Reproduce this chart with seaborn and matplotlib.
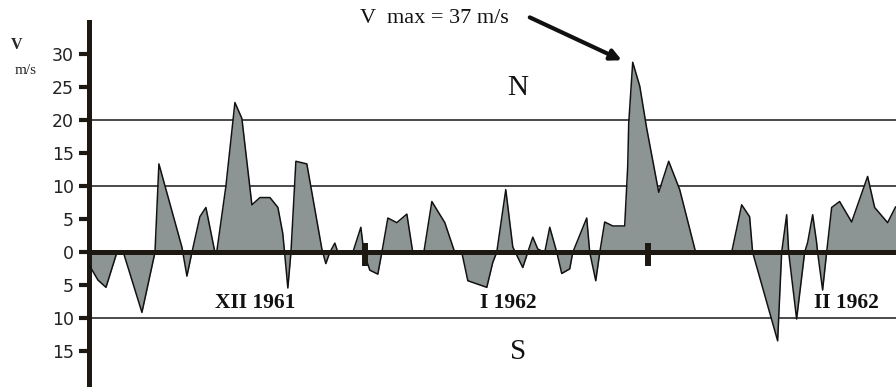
import numpy as np
import pandas as pd
import matplotlib
matplotlib.use('Agg')
import matplotlib.pyplot as plt
import seaborn as sns

# wind speed, Dec 1961 - Feb 1962 (days since 1 Dec), N positive / S negative
days = [0.82, 1.75, 2.63, 3.83, 4.60, 6.57, 8.00, 8.43, 10.95, 11.50, 12.05, 12.92, 13.58,
        14.57, 14.79, 15.77, 16.76, 17.52, 18.62, 19.50, 20.60, 21.47, 22.00, 22.20, 22.56,
        22.90, 23.44, 24.64, 26.29, 26.72, 27.16, 27.71, 28.04, 29.68, 30.56, 30.89, 31.54,
        32.42, 32.86, 33.52, 34.50, 35.60, 36.25, 37.46, 38.34, 39.76, 40.85, 41.62, 42.28,
        44.36, 45.02, 45.45, 46.44, 47.21, 48.30, 48.85, 49.40, 49.95, 50.71, 51.26, 52.03,
        52.57, 53.45, 53.78, 55.31, 55.64, 56.30, 56.74, 57.28, 58.16, 59.47, 59.80, 59.91,
        60.35, 61.12, 61.88, 63.20, 64.29, 65.50, 67.25, 71.19, 72.29, 73.16, 73.49, 76.23,
        76.67, 77.22, 77.44, 78.31, 79.19, 79.52, 80.07, 80.50, 80.61, 81.16, 81.60, 82.15,
        83.02, 84.34, 86.09, 86.86, 88.28, 89.16]
speed = [-2.0, -4.2, -5.3, 0.0, -0.3, -9.1, 0.0, 13.4, 0.8, -3.6, 0.0, 5.4, 6.8,
         0.0, 0.3, 10.0, 22.7, 20.3, 7.2, 8.3, 8.3, 6.8, 2.9, 0.0, -5.4,
         0.0, 13.8, 13.4, 0.5, -1.7, 0.0, 1.4, 0.0, 0.0, 3.8, 0.0, -2.7,
         -3.3, 0.0, 5.2, 4.5, 5.8, 0.0, 0.0, 7.7, 4.5, 0.0, 0.0, -4.3,
         -5.3, -1.5, 0.0, 9.5, 0.8, -2.3, 0.0, 2.3, 0.5, 0.0, 3.8, 0.0,
         -3.2, -2.5, 0.0, 5.2, 0.0, -4.3, 0.0, 4.6, 4.0, 4.0, 13.0, 19.5,
         28.8, 25.2, 18.8, 9.1, 13.8, 9.5, 0.0, 0.0, 7.2, 5.4, 0.0, -13.4,
         0.0, 5.7, 0.0, -10.1, 0.0, 1.5, 5.7, 1.5, 0.0, -5.7, 0.0, 6.8,
         7.7, 4.6, 11.5, 6.8, 4.5, 6.9]

month_starts = [31, 62]
month_labels = ['XII 1961', 'I 1962', 'II 1962']
month_label_days = [18.95, 46.66, 83.8]
grid_levels = [20, 10, -10]
y_ticks = [-15, -10, -5, 0, 5, 10, 15, 20, 25, 30]

df = pd.DataFrame({'day': days, 'speed': speed})

sns.set_style('white')
plt.rcParams['font.family'] = ['DejaVu Sans']
serif = ['Liberation Serif', 'DejaVu Serif']

fig = plt.figure(figsize=(8.96, 3.87), dpi=100)
ax = fig.add_axes([89 / 896, 0, 1 - 89 / 896, 1 - 22 / 387])

ink = '#1e1812'
for lvl in grid_levels:
    ax.axhline(lvl, color='#3c3c3c', lw=1.3, zorder=1)

ax.fill_between(df['day'], df['speed'], 0, color='#8d9494', lw=0, zorder=2)
sns.lineplot(data=df, x='day', y='speed', color='#111111', lw=1.1, ax=ax, zorder=3)
ax.axhline(0, color=ink, lw=3.6, zorder=4)
ax.vlines(month_starts, -2.0, 1.4, color=ink, lw=4.3, zorder=5)

ax.set_xlim(0.77, 89.2)
ax.set_ylim(-20.4, 34.9)
ax.set_xlabel('')
ax.set_ylabel('')
ax.set_xticks([])
ax.set_yticks(y_ticks)
ax.set_yticklabels([str(abs(t)) for t in y_ticks], fontsize=12.5, color='#222222')
ax.tick_params(axis='y', direction='out', length=7.5, width=3, color=ink, pad=3.5, left=True)

for s in ['top', 'right', 'bottom']:
    ax.spines[s].set_visible(False)
ax.spines['left'].set_linewidth(3.6)
ax.spines['left'].set_color(ink)

for d, lab in zip(month_label_days, month_labels):
    ax.text(d, -7.6, lab, ha='center', va='center', fontsize=15.5, fontweight='bold',
            family=serif, color='#111111')

ax.text(47.75, 24.9, 'N', ha='center', va='center', fontsize=21, family=serif, color='#111111')
ax.text(47.75, -15.15, 'S', ha='center', va='center', fontsize=21, family=serif, color='#111111')

ax.text(38.66, 35.45, 'V  max = 37 m/s', ha='center', va='center', fontsize=16,
        family=serif, color='#111111')
ax.annotate('', xy=(59.15, 29.1), xytext=(49.07, 35.6),
            arrowprops=dict(arrowstyle='-|>', lw=3, color='#111111', mutation_scale=16,
                            shrinkA=0, shrinkB=0),
            annotation_clip=False)

fig.text(17 / 896, 1 - 45 / 387, 'V', ha='center', va='center', fontsize=11.5,
         family=serif, fontweight='bold')
fig.text(26 / 896, 1 - 70 / 387, 'm/s', ha='center', va='center', fontsize=11, family=serif)

fig.savefig('out.png', dpi=100)
